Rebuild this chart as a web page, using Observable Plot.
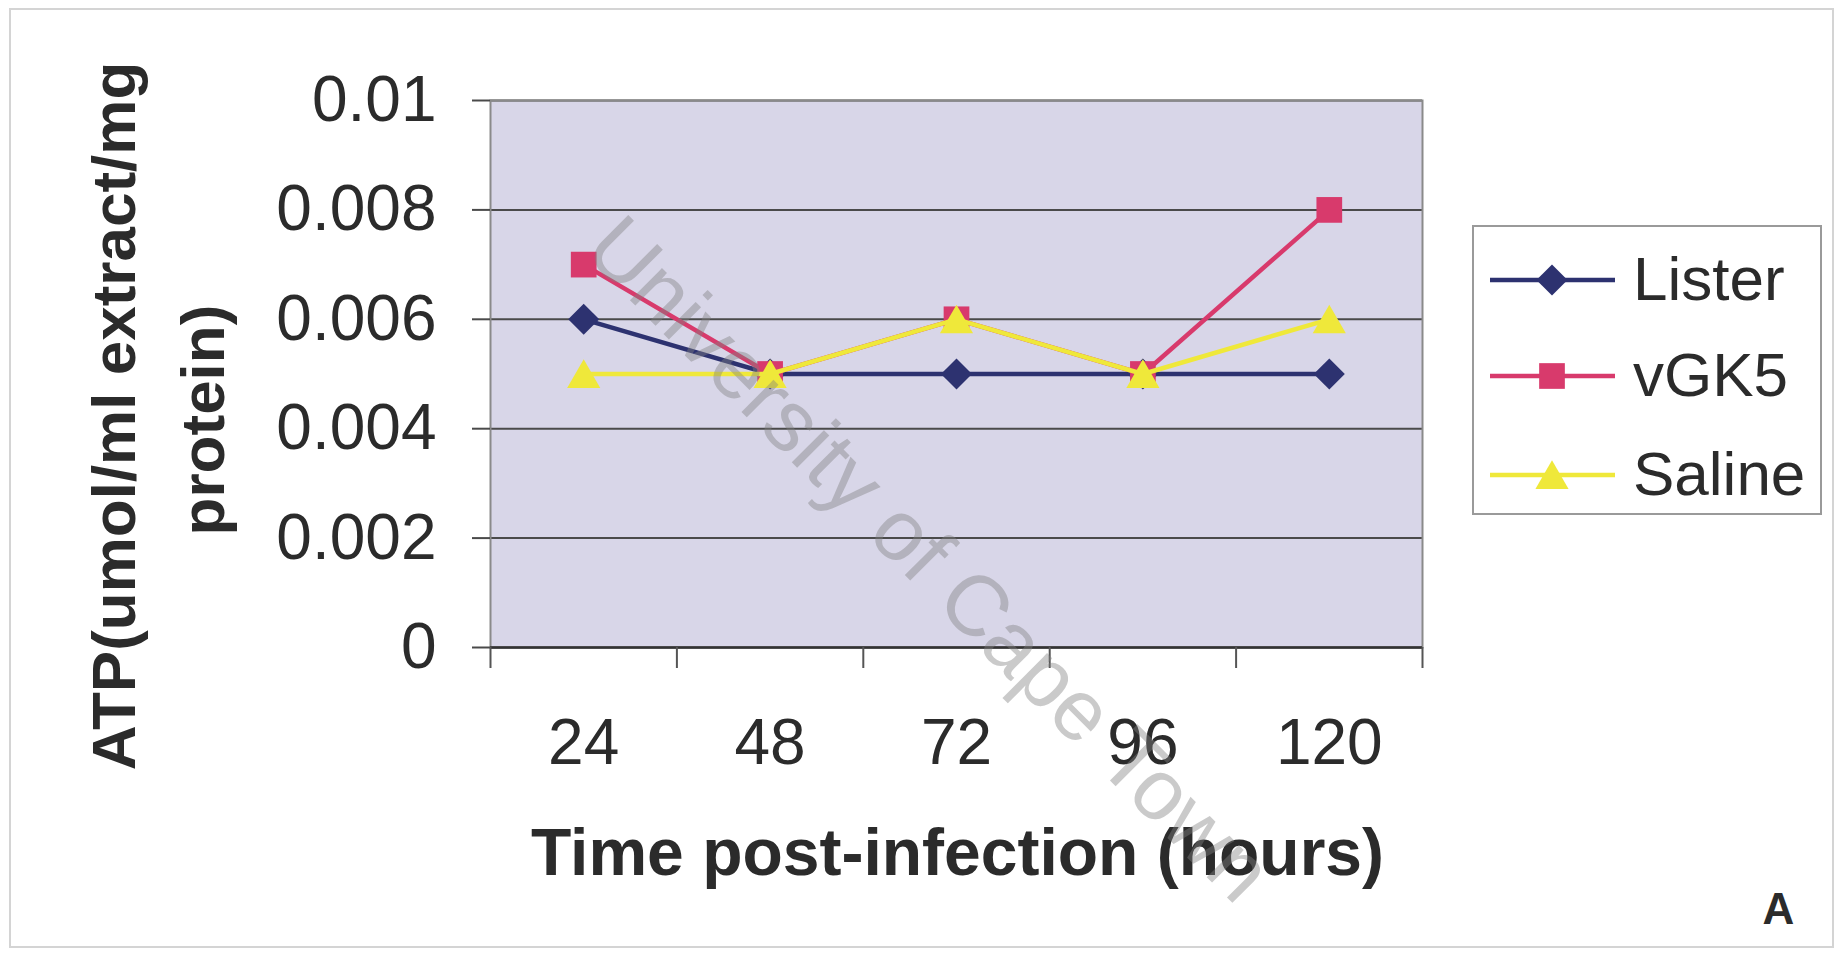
<!DOCTYPE html>
<html>
<head>
<meta charset="utf-8">
<script src="https://cdn.jsdelivr.net/npm/d3@7"></script>
<script src="https://cdn.jsdelivr.net/npm/@observablehq/plot@0.6"></script>
<style>
  html, body { margin: 0; padding: 0; background: #ffffff; }
  #wrap { position: relative; width: 1840px; height: 955px; overflow: hidden;
          font-family: "Liberation Sans", Arial, sans-serif; }
  #chart { position: absolute; left: 0; top: 0; }
  #border { position: absolute; left: 9px; top: 8px; width: 1825px; height: 940px;
            border: 2px solid #d4d4d4; box-sizing: border-box; pointer-events: none; }
  #legend { position: absolute; left: 1472px; top: 225px; width: 350px; height: 290px;
            border: 2px solid #9a9a9a; box-sizing: border-box; background: #ffffff; }
  #legend svg { display: block; }
</style>
</head>
<body>
<div id="wrap">
  <div id="border"></div>
  <div id="chart"></div>
  <div id="legend"></div>
</div>
<script>
// ---- data ----
const hours = [24, 48, 72, 96, 120];
const seriesNames = ["Lister", "vGK5", "Saline"];
const listerValues = [0.006, 0.005, 0.005, 0.005, 0.005];
const vgk5Values   = [0.007, 0.005, 0.006, 0.005, 0.008];
const salineValues = [0.005, 0.005, 0.006, 0.005, 0.006];
const seriesValues = [listerValues, vgk5Values, salineValues];
const yTicks = [0, 0.002, 0.004, 0.006, 0.008, 0.01];
const yTickLabels = ["0", "0.002", "0.004", "0.006", "0.008", "0.01"];
const xBoundaries = [12, 36, 60, 84, 108, 132];
const xTitle = "Time post-infection (hours)";
const yTitleLines = ["ATP(umol/ml extract/mg", "protein)"];
const panelLabel = "A";
const watermark = "University of Cape Town";

// ---- styles ----
const FONT = '"Liberation Sans", Arial, sans-serif';
const TEXT = "#2b2b2b";
const style = {
  Lister: {color: "#2d3270", symbol: "diamond2", d3symbol: d3.symbolDiamond2, r: 14,   dy: 0},
  vGK5:   {color: "#d83a6c", symbol: "square",   d3symbol: d3.symbolSquare,   r: 14.5, dy: 0},
  Saline: {color: "#efe83a", symbol: "triangle", d3symbol: d3.symbolTriangle, r: 12.3, dy: 4.5}
};

const rows = [];
seriesNames.forEach((name, k) => {
  hours.forEach((h, i) => rows.push({series: name, hour: h, value: seriesValues[k][i]}));
});

const seriesMarks = seriesNames.flatMap(name => {
  const s = style[name];
  const data = rows.filter(d => d.series === name);
  return [
    Plot.line(data, {x: "hour", y: "value", stroke: s.color, strokeWidth: 4.5}),
    Plot.dot(data, {x: "hour", y: "value", symbol: s.symbol, r: s.r, fill: s.color, stroke: null, dy: s.dy})
  ];
});

const chart = Plot.plot({
  width: 1840,
  height: 955,
  marginLeft: 490,
  marginRight: 418,
  marginTop: 100,
  marginBottom: 308,
  x: {type: "linear", domain: [12, 132]},
  y: {domain: [0, 0.01]},
  style: {fontFamily: FONT, fontSize: "63px", color: TEXT, background: "transparent", overflow: "visible"},
  marks: [
    Plot.frame({fill: "#d8d6e8", stroke: null}),
    Plot.gridY({ticks: yTicks, stroke: "#4a4a4a", strokeOpacity: 1, strokeWidth: 2}),
    Plot.frame({stroke: "#8a8a8a", strokeWidth: 2}),
    Plot.ruleY([0], {stroke: "#333333", strokeWidth: 2.5}),
    Plot.axisY({ticks: yTicks, tickFormat: d => yTickLabels[yTicks.indexOf(d)], tickSize: 18, tickPadding: 36,
                stroke: "#4a4a4a", strokeWidth: 2, fill: TEXT, fontSize: 64, label: null}),
    Plot.axisX({ticks: xBoundaries, tickSize: 21, stroke: "#555555", strokeWidth: 2, fill: "none", label: null}),
    Plot.axisX({ticks: hours, tickSize: 0, tickPadding: 71, fill: TEXT, fontSize: 64, label: null}),
    ...seriesMarks,
    Plot.text([yTitleLines[0]], {text: d => d, frameAnchor: "left", rotate: -90, dx: -375, dy: 42,
      fontSize: 62, fontWeight: "bold", textAnchor: "middle", lineAnchor: "middle", fill: TEXT}),
    Plot.text([yTitleLines[1]], {text: d => d, frameAnchor: "left", rotate: -90, dx: -286, dy: 46,
      fontSize: 62, fontWeight: "bold", textAnchor: "middle", lineAnchor: "middle", fill: TEXT}),
    Plot.text([xTitle], {text: d => d, frameAnchor: "bottom", dx: 1, dy: 206,
      fontSize: 66, fontWeight: "bold", textAnchor: "middle", lineAnchor: "middle", fill: TEXT}),
    Plot.text([panelLabel], {text: d => d, frameAnchor: "bottom-right", dx: 356, dy: 262,
      fontSize: 44, fontWeight: "bold", textAnchor: "middle", lineAnchor: "middle", fill: TEXT}),
    Plot.text([watermark], {text: d => d, frameAnchor: "middle", dx: -28, dy: 186, rotate: 45,
      fontSize: 86, textAnchor: "middle", lineAnchor: "middle", fill: "#808080", fillOpacity: 0.42})
  ]
});
document.getElementById("chart").appendChild(chart);

// ---- legend ----
const lg = d3.select("#legend").append("svg").attr("width", 346).attr("height", 286);
const rowY = [53, 149, 248];
seriesNames.forEach((name, i) => {
  const s = style[name];
  const g = lg.append("g").attr("transform", `translate(0,${rowY[i]})`);
  g.append("line").attr("x1", 16).attr("x2", 141).attr("y1", 0).attr("y2", 0)
    .attr("stroke", s.color).attr("stroke-width", 4.5);
  g.append("path").attr("d", d3.symbol(s.d3symbol, Math.PI * s.r * s.r)())
    .attr("transform", `translate(78,${s.dy})`).attr("fill", s.color);
  g.append("text").attr("x", 159).attr("dy", "0.33em").attr("font-family", FONT)
    .attr("font-size", 62).attr("fill", TEXT).text(name);
});
</script>
</body>
</html>
